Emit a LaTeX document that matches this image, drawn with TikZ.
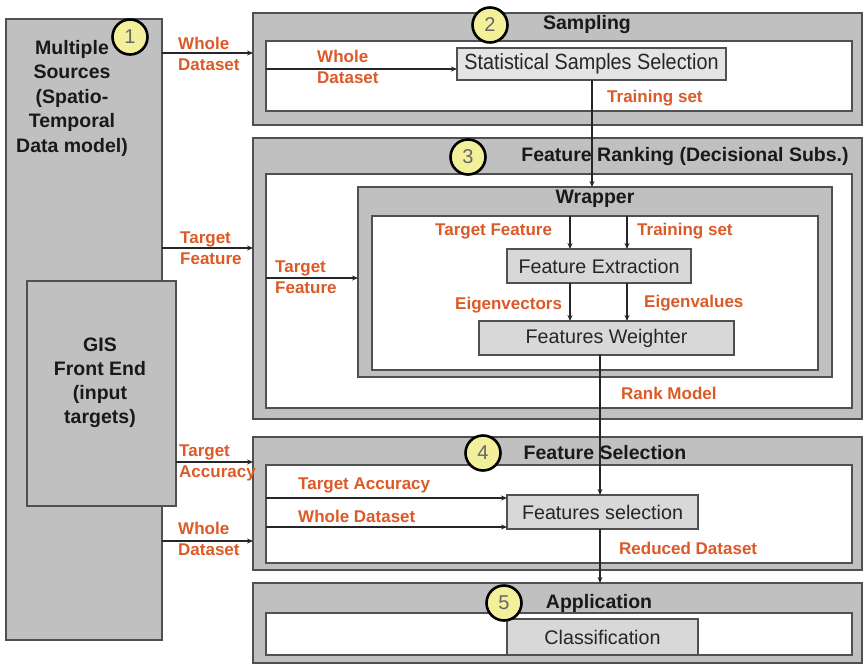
\documentclass[tikz,border=0pt]{standalone}
\usepackage{fontspec}
\setmainfont{Liberation Sans}
\newfontfamily\narrowsans[FakeStretch=0.9]{Liberation Sans}
\usetikzlibrary{arrows.meta}
\definecolor{boxgray}{HTML}{C0C0C0}
\definecolor{procgray}{HTML}{D8D8D8}
\definecolor{edge}{HTML}{505050}
\definecolor{flow}{HTML}{DC5A28}
\definecolor{badge}{HTML}{F2F09A}
\begin{document}
\begin{tikzpicture}[x=1pt,y=-1pt,
  panel/.style={draw=edge, line width=1.8pt, fill=boxgray, anchor=north west, inner sep=0pt, outer sep=0pt},
  pane/.style={draw=edge, line width=1.8pt, fill=white, anchor=north west, inner sep=0pt, outer sep=0pt},
  procbox/.style={draw=edge, line width=1.8pt, fill=procgray, anchor=north west, inner sep=0pt, outer sep=0pt,
    font=\fontsize{19.7}{22}\selectfont, text=black!85},
  numcirc/.style={circle, draw=black, line width=2.6pt, fill=badge, minimum size=35pt, inner sep=0pt,
    font=\fontsize{20}{20}\selectfont, text=black!60},
  title/.style={font=\bfseries\fontsize{19.5}{24.5}\selectfont, inner sep=0pt, align=center, text=black!90},
  lbl/.style={font=\bfseries\fontsize{17}{21}\selectfont, text=flow, inner sep=0pt, anchor=west, align=left},
  arr/.style={draw=black!85, line width=1.3pt, -{Stealth[length=6pt,width=5pt]}},
  wire/.style={draw=black!85, line width=1.3pt}
]
\useasboundingbox (0,0) rectangle (864,666);

% source column
\node[panel, minimum width=156pt, minimum height=621pt] (L) at (6,19) {};
\node[panel, minimum width=149pt, minimum height=225pt] (G) at (27,281) {};
\node[title] (Ltext) at (72,98) {Multiple\\Sources\\(Spatio-\\Temporal\\Data model)};
\node[title, font=\bfseries\fontsize{19.5}{24}\selectfont] (Gtext) at (100,383) {GIS\\Front End\\(input\\targets)};

% stage 2: sampling
\node[panel, minimum width=609pt, minimum height=112pt] (B2) at (253,13) {};
\node[pane, minimum width=586pt, minimum height=70pt] (I2) at (266,41) {};
\node[procbox, minimum width=269pt, minimum height=32pt, fill=procgray!70,
  font=\narrowsans\fontsize{22}{24}\selectfont] (SS) at (457,48) {Statistical Samples Selection};
\node[title] (T2) at (587,25) {Sampling};

% stage 3: feature ranking
\node[panel, minimum width=609pt, minimum height=281pt] (B3) at (253,138) {};
\node[pane, minimum width=586pt, minimum height=234pt] (I3) at (266,174) {};
\node[panel, minimum width=474pt, minimum height=190pt] (W) at (358,187) {};
\node[pane, minimum width=446pt, minimum height=154pt] (WI) at (372,216) {};
\node[procbox, minimum width=184pt, minimum height=34pt] (FE) at (507,249) {Feature Extraction};
\node[procbox, minimum width=255pt, minimum height=34pt] (FW) at (479,321) {Features Weighter};
\node[title] (T3) at (685,157) {Feature Ranking (Decisional Subs.)};
\node[title] (TW) at (595,199) {Wrapper};

% stage 4: feature selection
\node[panel, minimum width=609pt, minimum height=133pt] (B4) at (253,437) {};
\node[pane, minimum width=586pt, minimum height=98pt] (I4) at (266,465) {};
\node[procbox, minimum width=191pt, minimum height=34pt] (FS) at (507,495) {Features selection};
\node[title] (T4) at (605,453) {Feature Selection};

% stage 5: application
\node[panel, minimum width=609pt, minimum height=80pt] (B5) at (253,583) {};
\node[pane, minimum width=586pt, minimum height=42pt] (I5) at (266,613) {};
\node[procbox, minimum width=191pt, minimum height=36pt] (CL) at (507,619) {Classification};
\node[title] (T5) at (599,603) {Application};

% stage badges
\node[numcirc] (n1) at (130,37) {1};
\node[numcirc] (n2) at (490,25) {2};
\node[numcirc] (n3) at (468,157) {3};
\node[numcirc] (n4) at (483,453) {4};
\node[numcirc] (n5) at (504,603) {5};

% inputs from the sources
\draw[arr] (L.east |- 0,53) -- (B2.west |- 0,53);
\node[lbl] (l1) at (178,53.5) {Whole\\Dataset};
\draw[arr] (L.east |- 0,248) -- (B3.west |- 0,248);
\node[lbl] (l2) at (180,248.5) {Target\\Feature};
\draw[arr] (G.east |- 0,462) -- (B4.west |- 0,462);
\node[lbl] (l3) at (179,463) {Target\\Accuracy};
\draw[arr] (L.east |- 0,541) -- (B4.west |- 0,541);
\node[lbl] (l4) at (178,538.5) {Whole\\Dataset};

% sampling flow
\draw[arr] (I2.west |- 0,69) -- (SS.west |- 0,69);
\node[lbl] (l5) at (317,67) {Whole\\Dataset};
\draw[arr] (SS.south -| 592,0) -- (W.north -| 592,0);
\node[lbl] (l6) at (607,98) {Training set};

% ranking flow
\draw[arr] (I3.west |- 0,278) -- (W.west |- 0,278);
\node[lbl] (l7) at (275,277) {Target\\Feature};
\draw[arr] (WI.north -| 570,0) -- (FE.north -| 570,0);
\draw[arr] (WI.north -| 627,0) -- (FE.north -| 627,0);
\node[lbl] (l8) at (435,231) {Target Feature};
\node[lbl] (l9) at (637,231) {Training set};
\draw[arr] (FE.south -| 570,0) -- (FW.north -| 570,0);
\draw[arr] (FE.south -| 627,0) -- (FW.north -| 627,0);
\node[lbl] (l10) at (455,305) {Eigenvectors};
\node[lbl] (l11) at (644,303) {Eigenvalues};
\draw[arr] (FW.south -| 600,0) -- (FS.north -| 600,0);
\node[lbl] (l12) at (621,393) {Rank Model};

% selection flow
\draw[arr] (I4.west |- 0,498) -- (FS.west |- 0,498);
\node[lbl] (l13) at (298,485) {Target Accuracy};
\draw[arr] (I4.west |- 0,527) -- (FS.west |- 0,527);
\node[lbl] (l14) at (298,516) {Whole Dataset};
\draw[arr] (FS.south -| 600,0) -- (B5.north -| 600,0);
\node[lbl] (l15) at (619,548) {Reduced Dataset};
\end{tikzpicture}
\end{document}
